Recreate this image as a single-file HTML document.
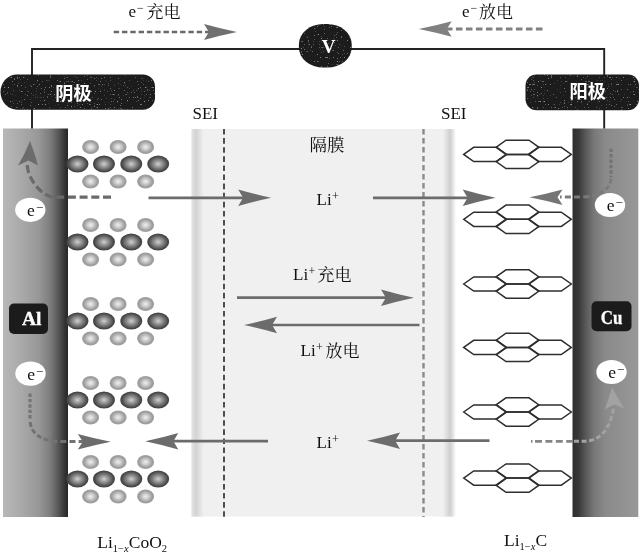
<!DOCTYPE html>
<html><head><meta charset="utf-8"><title>Li-ion battery</title>
<style>
html,body{margin:0;padding:0;background:#fff;}
body{width:640px;height:556px;overflow:hidden;font-family:"Liberation Serif",serif;}
svg{display:block;}
text{font-family:"Liberation Serif","Noto Serif CJK SC",serif;fill:#111;}
.sf{font-family:"Liberation Serif",serif;}
</style></head><body>
<svg width="640" height="556" viewBox="0 0 640 556">
<defs>
<linearGradient id="gAl" x1="0" y1="0" x2="1" y2="0">
<stop offset="0" stop-color="#b8b8b8"/><stop offset="0.3" stop-color="#a8a8a8"/><stop offset="0.55" stop-color="#979797"/><stop offset="0.72" stop-color="#7e7e7e"/><stop offset="0.85" stop-color="#585858"/><stop offset="0.95" stop-color="#343434"/><stop offset="1" stop-color="#262626"/>
</linearGradient>
<linearGradient id="gCu" x1="0" y1="0" x2="1" y2="0">
<stop offset="0" stop-color="#2e2e2e"/><stop offset="0.09" stop-color="#383838"/><stop offset="0.2" stop-color="#585858"/><stop offset="0.33" stop-color="#787878"/><stop offset="0.5" stop-color="#8a8a8a"/><stop offset="1" stop-color="#989898"/>
</linearGradient>
<radialGradient id="gL" cx="0.5" cy="0.5" r="0.5">
<stop offset="0" stop-color="#d0d0d0"/><stop offset="0.3" stop-color="#a0a0a0"/><stop offset="0.65" stop-color="#6a6a6a"/><stop offset="0.9" stop-color="#444"/><stop offset="1" stop-color="#4a4a4a"/>
</radialGradient>
<radialGradient id="gS" cx="0.5" cy="0.5" r="0.5">
<stop offset="0" stop-color="#efefef"/><stop offset="0.35" stop-color="#cfcfcf"/><stop offset="0.8" stop-color="#9c9c9c"/><stop offset="1" stop-color="#a2a2a2"/>
</radialGradient>
<linearGradient id="gSeiL" x1="0" y1="0" x2="1" y2="0">
<stop offset="0" stop-color="#fff"/><stop offset="0.1" stop-color="#e2e2e2"/><stop offset="0.42" stop-color="#d3d3d3"/><stop offset="1" stop-color="#f0f0f0"/>
</linearGradient>
<linearGradient id="gSeiR" x1="0" y1="0" x2="1" y2="0">
<stop offset="0" stop-color="#f0f0f0"/><stop offset="0.5" stop-color="#d2d2d2"/><stop offset="0.62" stop-color="#d4d4d4"/><stop offset="1" stop-color="#fff"/>
</linearGradient>
<filter id="noise" x="0" y="0" width="100%" height="100%">
<feTurbulence type="fractalNoise" baseFrequency="0.7" numOctaves="1" seed="7" result="t"/>
<feColorMatrix in="t" type="matrix" values="0 0 0 0 0.3  0 0 0 0 0.3  0 0 0 0 0.3  0 0 0 7 -4.6" result="sp"/>
<feComposite in="sp" in2="SourceGraphic" operator="in" result="spk"/>
<feMerge><feMergeNode in="SourceGraphic"/><feMergeNode in="spk"/></feMerge>
</filter>
<filter id="blur1" x="-10%" y="-10%" width="120%" height="120%"><feGaussianBlur stdDeviation="0.6"/></filter>
<filter id="blur05" x="-10%" y="-10%" width="120%" height="120%"><feGaussianBlur stdDeviation="0.4"/></filter>
</defs>
<rect width="640" height="556" fill="#fff"/>
<g opacity="0.999">

<rect x="191" y="129" width="262" height="387.5" fill="#f0f0f0"/>
<rect x="190.7" y="129" width="13" height="387.5" fill="url(#gSeiL)"/>
<rect x="443" y="129" width="13" height="387.5" fill="url(#gSeiR)"/>
<line x1="224" y1="129" x2="224" y2="517" stroke="#3c3c3c" stroke-width="1.8" stroke-dasharray="5.6 3.5"/>
<line x1="423.5" y1="129" x2="423.5" y2="517" stroke="#8a8a8a" stroke-width="2.4" stroke-dasharray="5.6 3.4"/>
<rect x="3" y="128.5" width="65" height="388.5" fill="url(#gAl)"/>
<rect x="572.5" y="128.5" width="65.8" height="388.5" fill="url(#gCu)"/>
<path d="M32,128.5 V49 H604.2 V128.5" fill="none" stroke="#222" stroke-width="1.9"/>
<g filter="url(#noise)">
<path d="M17,74.4 H143 A12,12 0 0 1 155,86.4 V97.7 A12,12 0 0 1 143,109.7 H17 A16.5,17.65 0 0 1 17,74.4 Z" fill="#1b1b1b"/>
<rect x="525.5" y="74.500" width="113.5" height="35.7" rx="11" ry="11" fill="#1b1b1b"/>
<rect x="298.9" y="24.1" width="52.800" height="43.4" rx="24.4" ry="20" fill="#1b1b1b"/>
</g>
<text x="328.5" y="52.7" text-anchor="middle" font-size="19" font-weight="bold" style="fill:#fff">V</text>
<text x="55.3" y="99.6" font-size="18.2" font-weight="bold" style='font-family:"Liberation Sans","Noto Sans CJK SC",sans-serif;fill:#fff'>阴极</text>
<text x="569.5" y="98.4" font-size="18.2" font-weight="bold" style='font-family:"Liberation Sans","Noto Sans CJK SC",sans-serif;fill:#fff'>阳极</text>
<g filter="url(#blur1)">
<ellipse cx="90.6" cy="147" rx="8.5" ry="7.1" fill="url(#gS)"/>
<ellipse cx="118.1" cy="147" rx="8.5" ry="7.1" fill="url(#gS)"/>
<ellipse cx="145.6" cy="147" rx="8.5" ry="7.1" fill="url(#gS)"/>
<ellipse cx="90.6" cy="181.5" rx="8.5" ry="7.1" fill="url(#gS)"/>
<ellipse cx="118.1" cy="181.5" rx="8.5" ry="7.1" fill="url(#gS)"/>
<ellipse cx="145.6" cy="181.5" rx="8.5" ry="7.1" fill="url(#gS)"/>
<ellipse cx="77.5" cy="164" rx="11" ry="8.6" fill="url(#gL)"/>
<ellipse cx="104" cy="164" rx="11" ry="8.6" fill="url(#gL)"/>
<ellipse cx="131.3" cy="164" rx="11" ry="8.6" fill="url(#gL)"/>
<ellipse cx="158.2" cy="164" rx="11" ry="8.6" fill="url(#gL)"/>
<ellipse cx="90.6" cy="225" rx="8.5" ry="7.1" fill="url(#gS)"/>
<ellipse cx="118.1" cy="225" rx="8.5" ry="7.1" fill="url(#gS)"/>
<ellipse cx="145.6" cy="225" rx="8.5" ry="7.1" fill="url(#gS)"/>
<ellipse cx="90.6" cy="259.5" rx="8.5" ry="7.1" fill="url(#gS)"/>
<ellipse cx="118.1" cy="259.5" rx="8.5" ry="7.1" fill="url(#gS)"/>
<ellipse cx="145.6" cy="259.5" rx="8.5" ry="7.1" fill="url(#gS)"/>
<ellipse cx="77.5" cy="242" rx="11" ry="8.6" fill="url(#gL)"/>
<ellipse cx="104" cy="242" rx="11" ry="8.6" fill="url(#gL)"/>
<ellipse cx="131.3" cy="242" rx="11" ry="8.6" fill="url(#gL)"/>
<ellipse cx="158.2" cy="242" rx="11" ry="8.6" fill="url(#gL)"/>
<ellipse cx="90.6" cy="304" rx="8.5" ry="7.1" fill="url(#gS)"/>
<ellipse cx="118.1" cy="304" rx="8.5" ry="7.1" fill="url(#gS)"/>
<ellipse cx="145.6" cy="304" rx="8.5" ry="7.1" fill="url(#gS)"/>
<ellipse cx="90.6" cy="338.5" rx="8.5" ry="7.1" fill="url(#gS)"/>
<ellipse cx="118.1" cy="338.5" rx="8.5" ry="7.1" fill="url(#gS)"/>
<ellipse cx="145.6" cy="338.5" rx="8.5" ry="7.1" fill="url(#gS)"/>
<ellipse cx="77.5" cy="321" rx="11" ry="8.6" fill="url(#gL)"/>
<ellipse cx="104" cy="321" rx="11" ry="8.6" fill="url(#gL)"/>
<ellipse cx="131.3" cy="321" rx="11" ry="8.6" fill="url(#gL)"/>
<ellipse cx="158.2" cy="321" rx="11" ry="8.6" fill="url(#gL)"/>
<ellipse cx="90.6" cy="383" rx="8.5" ry="7.1" fill="url(#gS)"/>
<ellipse cx="118.1" cy="383" rx="8.5" ry="7.1" fill="url(#gS)"/>
<ellipse cx="145.6" cy="383" rx="8.5" ry="7.1" fill="url(#gS)"/>
<ellipse cx="90.6" cy="417.5" rx="8.5" ry="7.1" fill="url(#gS)"/>
<ellipse cx="118.1" cy="417.5" rx="8.5" ry="7.1" fill="url(#gS)"/>
<ellipse cx="145.6" cy="417.5" rx="8.5" ry="7.1" fill="url(#gS)"/>
<ellipse cx="77.5" cy="400" rx="11" ry="8.6" fill="url(#gL)"/>
<ellipse cx="104" cy="400" rx="11" ry="8.6" fill="url(#gL)"/>
<ellipse cx="131.3" cy="400" rx="11" ry="8.6" fill="url(#gL)"/>
<ellipse cx="158.2" cy="400" rx="11" ry="8.6" fill="url(#gL)"/>
<ellipse cx="90.6" cy="462" rx="8.5" ry="7.1" fill="url(#gS)"/>
<ellipse cx="118.1" cy="462" rx="8.5" ry="7.1" fill="url(#gS)"/>
<ellipse cx="145.6" cy="462" rx="8.5" ry="7.1" fill="url(#gS)"/>
<ellipse cx="90.6" cy="496.5" rx="8.5" ry="7.1" fill="url(#gS)"/>
<ellipse cx="118.1" cy="496.5" rx="8.5" ry="7.1" fill="url(#gS)"/>
<ellipse cx="145.6" cy="496.5" rx="8.5" ry="7.1" fill="url(#gS)"/>
<ellipse cx="77.5" cy="479" rx="11" ry="8.6" fill="url(#gL)"/>
<ellipse cx="104" cy="479" rx="11" ry="8.6" fill="url(#gL)"/>
<ellipse cx="131.3" cy="479" rx="11" ry="8.6" fill="url(#gL)"/>
<ellipse cx="158.2" cy="479" rx="11" ry="8.6" fill="url(#gL)"/>
</g>
<g fill="none" stroke="#2e2e2e" stroke-width="1.5" stroke-linejoin="miter"><polygon points="463.7,154.4 473.7,147.3 496.7,147.3 506.7,154.4 496.7,161.5 473.7,161.5"/><polygon points="496.0,147.3 506.0,140.2 529.0,140.2 539.0,147.3 529.0,154.4 506.0,154.4"/><polygon points="496.0,161.5 506.0,154.4 529.0,154.4 539.0,161.5 529.0,168.6 506.0,168.6"/><polygon points="528.3,154.4 538.3,147.3 561.3,147.3 571.3,154.4 561.3,161.5 538.3,161.5"/></g>
<g fill="none" stroke="#2e2e2e" stroke-width="1.5" stroke-linejoin="miter"><polygon points="463.7,219.3 473.7,212.2 496.7,212.2 506.7,219.3 496.7,226.4 473.7,226.4"/><polygon points="496.0,212.2 506.0,205.1 529.0,205.1 539.0,212.2 529.0,219.3 506.0,219.3"/><polygon points="496.0,226.4 506.0,219.3 529.0,219.3 539.0,226.4 529.0,233.5 506.0,233.5"/><polygon points="528.3,219.3 538.3,212.2 561.3,212.2 571.3,219.3 561.3,226.4 538.3,226.4"/></g>
<g fill="none" stroke="#2e2e2e" stroke-width="1.5" stroke-linejoin="miter"><polygon points="463.7,284.0 473.7,276.9 496.7,276.9 506.7,284.0 496.7,291.1 473.7,291.1"/><polygon points="496.0,276.9 506.0,269.8 529.0,269.8 539.0,276.9 529.0,284.0 506.0,284.0"/><polygon points="496.0,291.1 506.0,284.0 529.0,284.0 539.0,291.1 529.0,298.2 506.0,298.2"/><polygon points="528.3,284.0 538.3,276.9 561.3,276.9 571.3,284.0 561.3,291.1 538.3,291.1"/></g>
<g fill="none" stroke="#2e2e2e" stroke-width="1.5" stroke-linejoin="miter"><polygon points="463.7,347.4 473.7,340.3 496.7,340.3 506.7,347.4 496.7,354.5 473.7,354.5"/><polygon points="496.0,340.3 506.0,333.2 529.0,333.2 539.0,340.3 529.0,347.4 506.0,347.4"/><polygon points="496.0,354.5 506.0,347.4 529.0,347.4 539.0,354.5 529.0,361.6 506.0,361.6"/><polygon points="528.3,347.4 538.3,340.3 561.3,340.3 571.3,347.4 561.3,354.5 538.3,354.5"/></g>
<g fill="none" stroke="#2e2e2e" stroke-width="1.5" stroke-linejoin="miter"><polygon points="463.7,412.0 473.7,404.9 496.7,404.9 506.7,412.0 496.7,419.1 473.7,419.1"/><polygon points="496.0,404.9 506.0,397.8 529.0,397.8 539.0,404.9 529.0,412.0 506.0,412.0"/><polygon points="496.0,419.1 506.0,412.0 529.0,412.0 539.0,419.1 529.0,426.2 506.0,426.2"/><polygon points="528.3,412.0 538.3,404.9 561.3,404.9 571.3,412.0 561.3,419.1 538.3,419.1"/></g>
<g fill="none" stroke="#2e2e2e" stroke-width="1.5" stroke-linejoin="miter"><polygon points="463.7,478.1 473.7,471.0 496.7,471.0 506.7,478.1 496.7,485.2 473.7,485.2"/><polygon points="496.0,471.0 506.0,463.9 529.0,463.9 539.0,471.0 529.0,478.1 506.0,478.1"/><polygon points="496.0,485.2 506.0,478.1 529.0,478.1 539.0,485.2 529.0,492.3 506.0,492.3"/><polygon points="528.3,478.1 538.3,471.0 561.3,471.0 571.3,478.1 561.3,485.2 538.3,485.2"/></g>
<g filter="url(#blur05)">
<line x1="148.5" y1="197.8" x2="248.1" y2="197.8" stroke="#6c6c6c" stroke-width="2.7"/><path d="M271.2,197.8 Q254.7,194.3 238.2,189.5 L243.1,197.8 L238.2,206.1 Q254.7,201.3 271.2,197.8 Z" fill="#6c6c6c"/>
<line x1="373" y1="197.8" x2="472.6" y2="197.8" stroke="#6c6c6c" stroke-width="2.7"/><path d="M495.7,197.8 Q479.2,194.3 462.7,189.5 L467.6,197.8 L462.7,206.1 Q479.2,201.3 495.7,197.8 Z" fill="#6c6c6c"/>
<line x1="237" y1="297.7" x2="390.9" y2="297.7" stroke="#6c6c6c" stroke-width="2.7"/><path d="M414.0,297.7 Q397.5,294.2 381.0,289.4 L385.9,297.7 L381.0,306.0 Q397.5,301.2 414.0,297.7 Z" fill="#6c6c6c"/>
<line x1="419.5" y1="325" x2="267.1" y2="325" stroke="#6c6c6c" stroke-width="2.7"/><path d="M244.0,325.0 Q260.5,321.5 277.0,316.7 L272.1,325.0 L277.0,333.3 Q260.5,328.5 244.0,325.0 Z" fill="#6c6c6c"/>
<line x1="268" y1="441.2" x2="168.4" y2="441.2" stroke="#6c6c6c" stroke-width="2.7"/><path d="M145.3,441.2 Q161.8,437.7 178.3,432.9 L173.4,441.2 L178.3,449.5 Q161.8,444.7 145.3,441.2 Z" fill="#6c6c6c"/>
<line x1="489.5" y1="440.7" x2="390.1" y2="440.7" stroke="#6c6c6c" stroke-width="2.7"/><path d="M367.0,440.7 Q383.5,437.2 400.0,432.4 L395.1,440.7 L400.0,449.0 Q383.5,444.2 367.0,440.7 Z" fill="#6c6c6c"/>
<line x1="113.7" y1="32" x2="212" y2="32" stroke="#6a6a6a" stroke-width="2.3" stroke-dasharray="5.4 2.9"/><path d="M237.0,32.0 Q220.5,28.6 204.0,24.0 L208.9,32.0 L204.0,40.0 Q220.5,35.4 237.0,32.0 Z" fill="#707070"/>
<line x1="542.5" y1="29" x2="444" y2="29" stroke="#808080" stroke-width="3" stroke-dasharray="6.6 3.4"/><path d="M418.7,29.0 Q435.2,25.7 451.7,21.2 L446.8,29.0 L451.7,36.8 Q435.2,32.3 418.7,29.0 Z" fill="#808080"/>
<path d="M111,197.2 H54 C44,196 33,186 28.5,172 C27.3,168 27,165 27.5,162" fill="none" stroke="#6a6a6a" stroke-width="3.2" stroke-dasharray="8 3.7"/>
<path d="M30,141 Q35,154 38,165.5 L28.5,160.5 L18,165.5 Q25,154 30,141 Z" fill="#6c6c6c"/>
<path d="M30,393.5 V420.5" fill="none" stroke="#747474" stroke-width="3.2" stroke-dasharray="3.4 2"/>
<path d="M30.2,422 C31,432 39,440 56,441.6 H84" fill="none" stroke="#727272" stroke-width="3" stroke-dasharray="5 2.6 5 2.6 5 2.6 5 2.6 6 3.2 6 3.2 6 3.2"/>
<path d="M110.8,441.8 Q94.3,438.5 77.8,434.0 L82.8,441.8 L77.8,449.6 Q94.3,445.1 110.8,441.8 Z" fill="#6c6c6c"/>
<path d="M611,148.7 V177" fill="none" stroke="#727272" stroke-width="3" stroke-dasharray="3.4 2"/>
<path d="M611,178.5 C610.5,189 600,196 582,197 H560" fill="none" stroke="#7a7a7a" stroke-width="3" stroke-dasharray="5 2.6 5 2.6 5 2.6 5 2.6 6 3.2 6 3.2 6 3.2 6 3.2"/>
<path d="M529.5,197.2 Q546.0,193.9 562.5,189.4 L557.5,197.2 L562.5,205.0 Q546.0,200.5 529.5,197.2 Z" fill="#757575"/>
<path d="M531,441.3 H574" fill="none" stroke="#858585" stroke-width="2.8" stroke-dasharray="1.5 2.5 7 3.4 7 3.4 7 3.4 7 3.4 7 3.4"/>
<path d="M574,441.3 H586 C600,440 610,430 613.5,408" fill="none" stroke="#a2a2a2" stroke-width="3" stroke-dasharray="5 2.6"/>
<path d="M612,387.6 Q618,398 624,408.5 L614,404.5 L605,409.3 Q609,398 612,387.6 Z" fill="#a2a2a2"/>
</g>
<ellipse cx="30.3" cy="209.8" rx="15.2" ry="12.1" fill="#fff" filter="url(#blur05)"/>
<text x="27.1" y="216.20000000000002" font-size="17.5">e<tspan dx="1" dy="-4.2" font-size="13">−</tspan></text>
<ellipse cx="30.5" cy="373.6" rx="15.2" ry="12.1" fill="#fff" filter="url(#blur05)"/>
<text x="27.3" y="380.0" font-size="17.5">e<tspan dx="1" dy="-4.2" font-size="13">−</tspan></text>
<ellipse cx="610" cy="205" rx="15.2" ry="12.1" fill="#fff" filter="url(#blur05)"/>
<text x="606.8" y="211.4" font-size="17.5">e<tspan dx="1" dy="-4.2" font-size="13">−</tspan></text>
<ellipse cx="611.5" cy="372" rx="15.2" ry="12.1" fill="#fff" filter="url(#blur05)"/>
<text x="608.3" y="378.4" font-size="17.5">e<tspan dx="1" dy="-4.2" font-size="13">−</tspan></text>
<rect x="9" y="303.5" width="39" height="30.5" rx="5" ry="5" fill="#1b1b1b"/>
<text x="22" y="325.3" font-size="19.5" font-weight="bold" style="fill:#fff;stroke:#fff;stroke-width:0.3">Al</text>
<rect x="591.5" y="301.2" width="40" height="30" rx="5" ry="5" fill="#1b1b1b"/>
<text transform="translate(600.8,323.7) scale(0.87,1)" x="0" y="0" font-size="19.5" font-weight="bold" style="fill:#fff;stroke:#fff;stroke-width:0.3">Cu</text>
<text x="192.5" y="119" font-size="17">SEI</text>
<text x="441" y="119" font-size="17">SEI</text>
<text x="309.5" y="151" font-size="17.5">隔膜</text>
<text x="316.5" y="205" font-size="17">Li<tspan dx="0.5" dy="-5" font-size="12">+</tspan></text>
<text x="316.5" y="447.5" font-size="17">Li<tspan dx="0.5" dy="-5" font-size="12">+</tspan></text>
<text x="293" y="279.5" font-size="17">Li<tspan dx="0.5" dy="-5" font-size="12">+</tspan></text>
<text x="317.5" y="280.5" font-size="17">充电</text>
<text x="300.5" y="356" font-size="17">Li<tspan dx="0.5" dy="-5" font-size="12">+</tspan></text>
<text x="325.5" y="357" font-size="17">放电</text>
<text x="128.5" y="17" font-size="17">e<tspan dx="1" dy="-5.5" font-size="12">−</tspan></text>
<text x="146.5" y="18" font-size="17">充电</text>
<text x="462" y="17" font-size="17">e<tspan dx="1" dy="-5.5" font-size="12">−</tspan></text>
<text x="479" y="18" font-size="17">放电</text>
<text x="97.3" y="547.8" font-size="17.5">Li<tspan dy="4" font-size="10.5">1−<tspan font-style="italic">x</tspan></tspan><tspan dy="-4" font-size="17.5">CoO</tspan><tspan dy="4" font-size="10.5">2</tspan></text>
<text x="504" y="545.7" font-size="17.5">Li<tspan dy="4" font-size="10.5">1−<tspan font-style="italic">x</tspan></tspan><tspan dy="-4" font-size="17.5">C</tspan></text>
</g></svg></body></html>
